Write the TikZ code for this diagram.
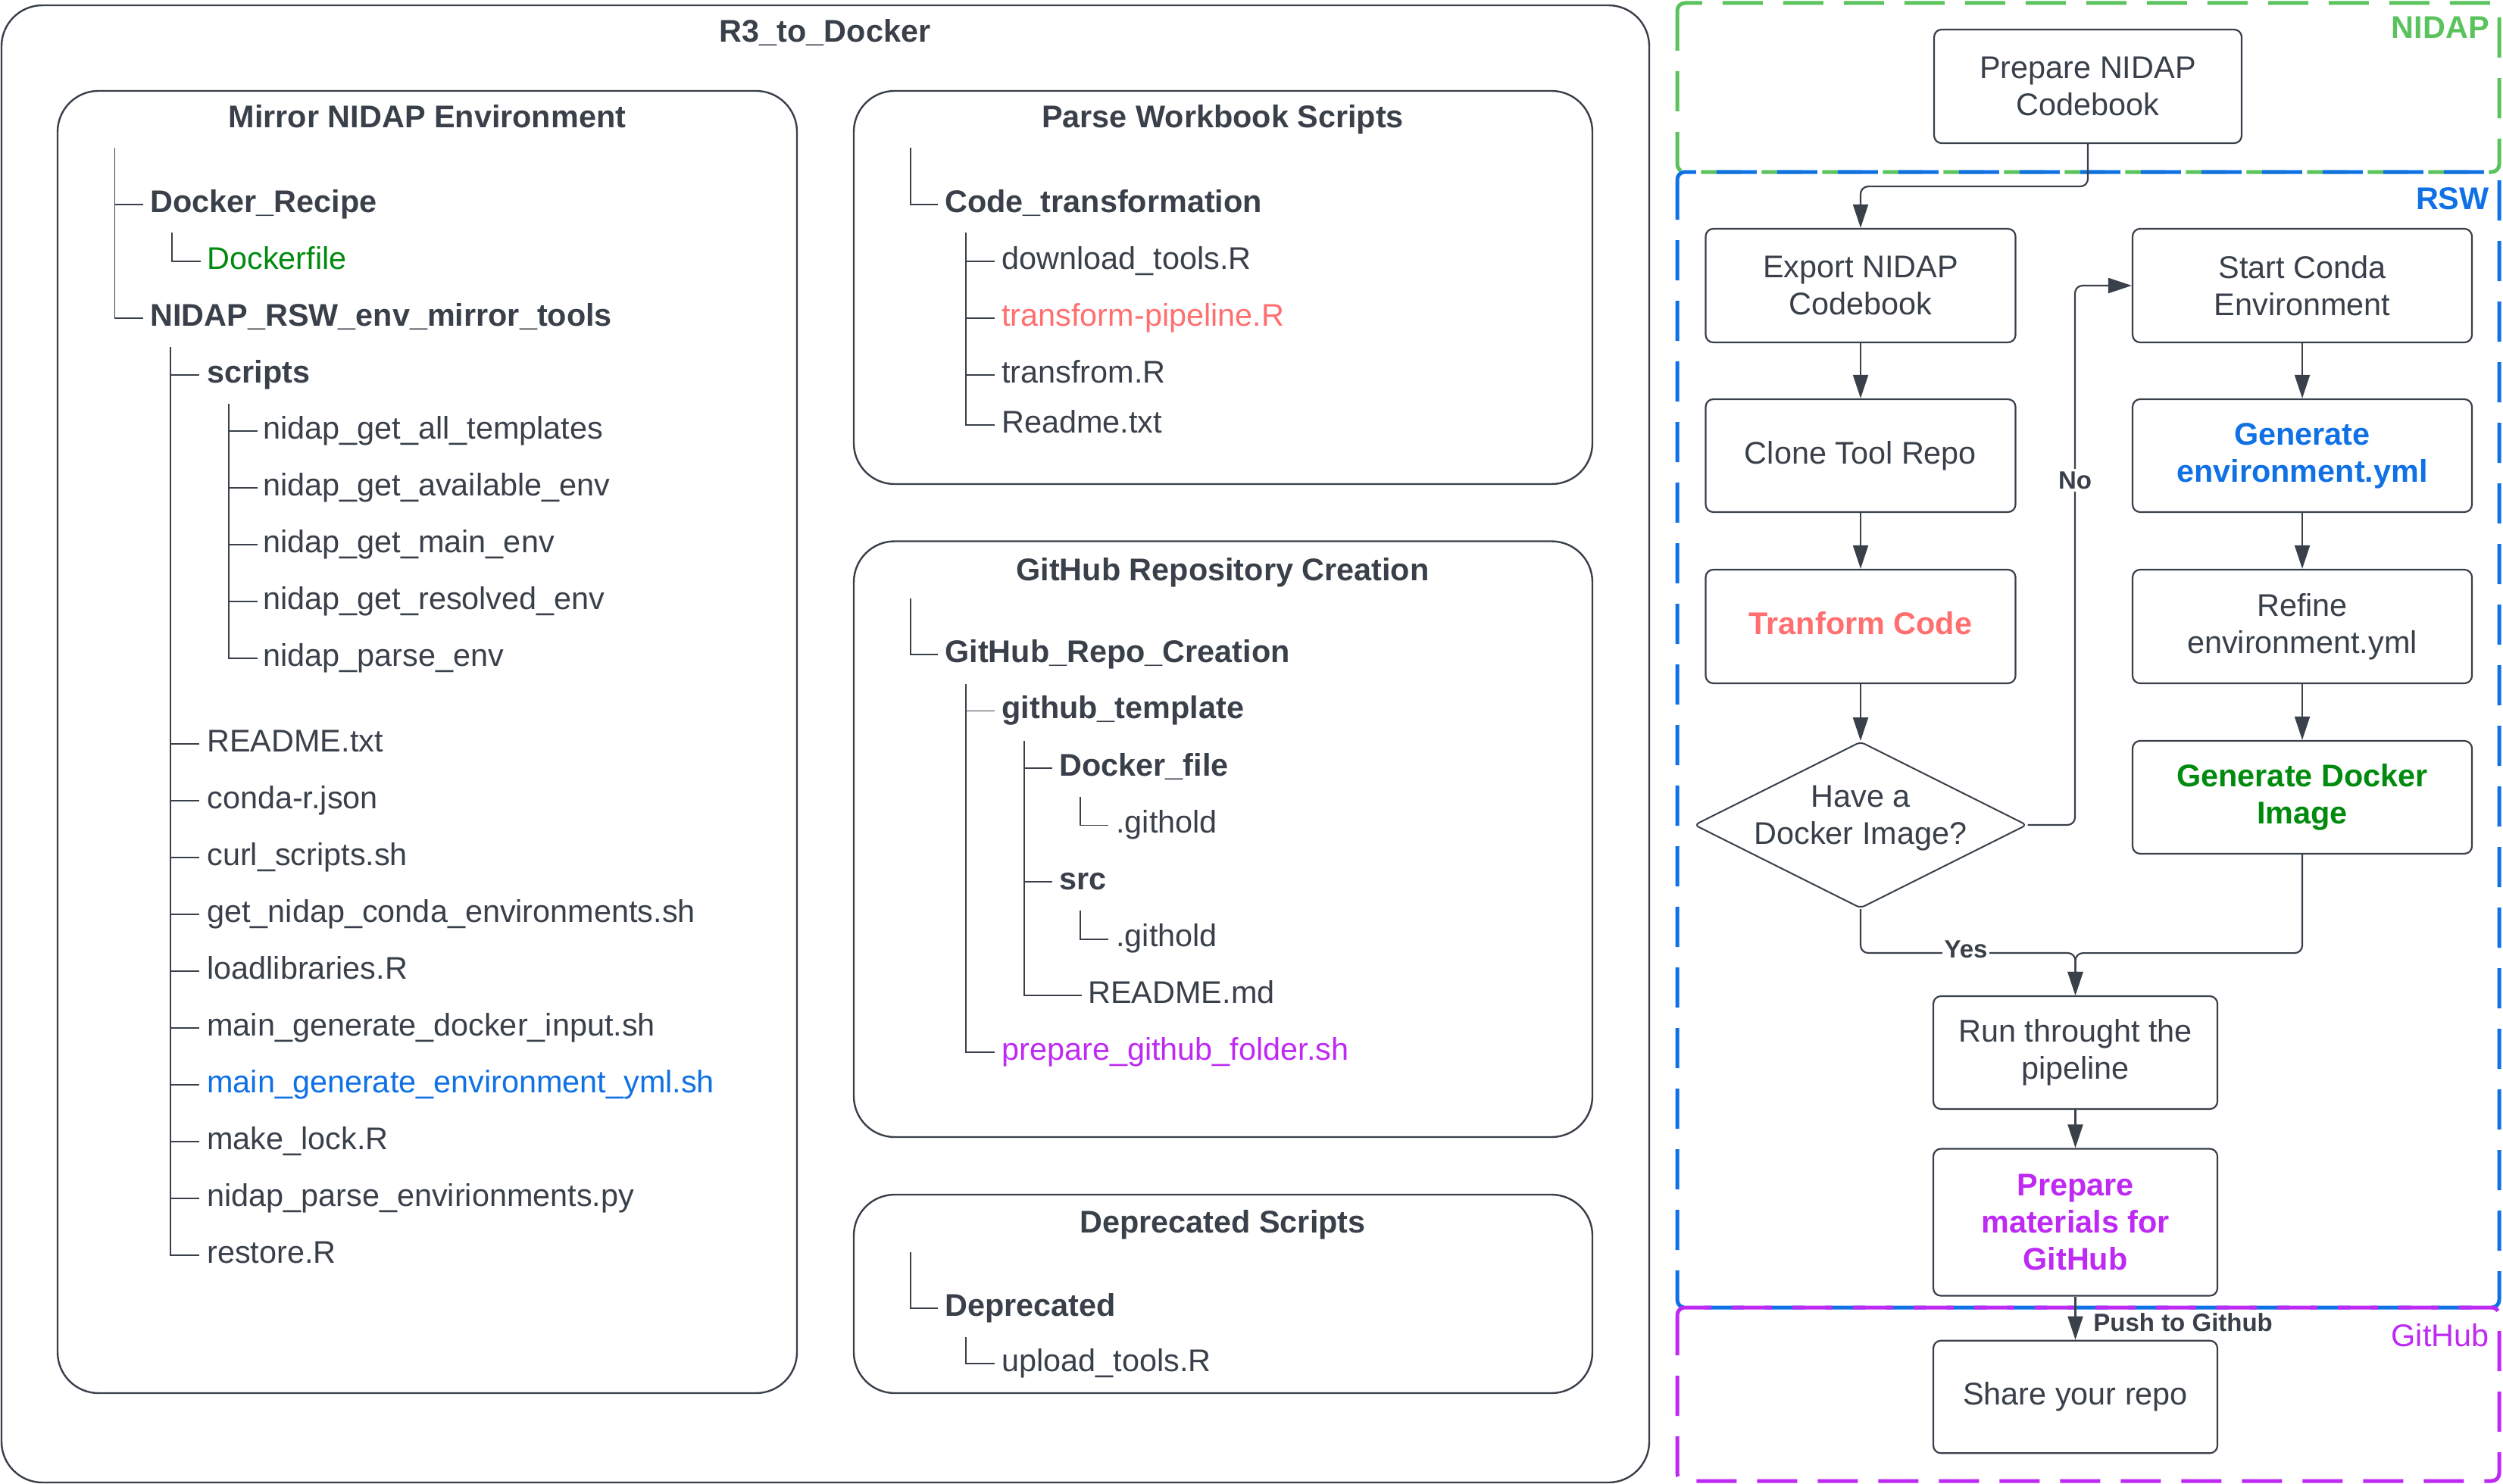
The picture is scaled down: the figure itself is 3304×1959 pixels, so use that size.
\documentclass[tikz,border=0pt]{standalone}
\usepackage{fontspec}
\setmainfont{Liberation Sans}
\usetikzlibrary{shapes.geometric,arrows.meta}
\definecolor{dk}{HTML}{39404A}
\definecolor{tgreen}{HTML}{008A0E}
\definecolor{tblue}{HTML}{1071E5}
\definecolor{tred}{HTML}{FF6F6F}
\definecolor{tpurple}{HTML}{BE2AF3}
\definecolor{dgreen}{HTML}{5BC35E}
\definecolor{dblue}{HTML}{1071E5}
\definecolor{dpurple}{HTML}{BE2AF3}
\begin{document}
\begin{tikzpicture}[x=0.5pt,y=-0.5pt,
  fnt/.style={font=\fontsize{20.7pt}{24.5pt}\selectfont},
  bfnt/.style={font=\fontsize{20.7pt}{24.5pt}\selectfont\bfseries},
  titem/.style={fnt,text=dk,inner sep=0pt,anchor=base west},
  bitem/.style={bfnt,text=dk,inner sep=0pt,anchor=base west},
  ttl/.style={bfnt,text=dk,inner sep=0pt,anchor=base},
  grp/.style={draw=dk,line width=1.2pt,rounded corners=27pt},
  tl/.style={draw=dk,line width=0.9pt},
  flowbox/.style={draw=dk,line width=1.1pt,rounded corners=5pt,fill=white,align=center,text=dk,fnt,inner sep=0pt},
  arr/.style={draw=dk,line width=1.1pt,-{Triangle[length=15.5pt,width=10pt]}},
  zone/.style={line width=2.5pt,dash pattern=on 26.5pt off 13.5pt,rounded corners=5pt},
  lbl/.style={font=\fontsize{16.5pt}{19.8pt}\selectfont\bfseries,text=dk,inner sep=1.5pt}]
\useasboundingbox (0,0) rectangle (3304,1959);

% ---------- left group boxes ----------
\draw[grp] (2,7) rectangle (2177,1957);
\node[ttl] (r3) at (1089,56) {R3\_to\_Docker};
\draw[grp] (76,120) rectangle (1052,1839);
\node[ttl] (mirror) at (564,169) {Mirror NIDAP Environment};
\draw[grp] (1127,120) rectangle (2102,639);
\node[ttl] (parse) at (1614,169) {Parse Workbook Scripts};
\draw[grp] (1127,714.5) rectangle (2102,1501);
\node[ttl] (ghrep) at (1614,766) {GitHub Repository Creation};
\draw[grp] (1127,1577) rectangle (2102,1839);
\node[ttl] (deprs) at (1614,1627) {Deprecated Scripts};

% ---------- Mirror tree ----------
\draw[tl] (151.5,195) -- (151.5,420) -- (189,420);
\draw[tl] (151.5,270) -- (189,270);
\node[bitem] (dockerrecipe) at (198,280) {Docker\_Recipe};
\node[bitem] (nrsw) at (198,430) {NIDAP\_RSW\_env\_mirror\_tools};
\draw[tl] (226.6,307) -- (226.6,345) -- (264.5,345);
\node[titem,text=tgreen] (dockerfile) at (273,355) {Dockerfile};
\draw[tl] (225,458) -- (225,1657) -- (263,1657);
\draw[tl] (225,495) -- (263,495);
\node[bitem] (scripts) at (273,505) {scripts};
\draw[tl] (302,533) -- (302,869) -- (340,869);
\foreach \yy in {569,644,719,794} \draw[tl] (302,\yy) -- (340,\yy);
\node[titem] (n1) at (347,579) {nidap\_get\_all\_templates};
\node[titem] (n2) at (347,654) {nidap\_get\_available\_env};
\node[titem] (n3) at (347,729) {nidap\_get\_main\_env};
\node[titem] (n4) at (347,804) {nidap\_get\_resolved\_env};
\node[titem] (n5) at (347,879) {nidap\_parse\_env};
\foreach \yy in {982,1057,...,1582} \draw[tl] (225,\yy) -- (263,\yy);
\node[titem] (f1) at (273,992) {README.txt};
\node[titem] (f2) at (273,1067) {conda-r.json};
\node[titem] (f3) at (273,1142) {curl\_scripts.sh};
\node[titem] (f4) at (273,1217) {get\_nidap\_conda\_environments.sh};
\node[titem] (f5) at (273,1292) {loadlibraries.R};
\node[titem] (f6) at (273,1367) {main\_generate\_docker\_input.sh};
\node[titem,text=tblue] (f7) at (273,1442) {main\_generate\_environment\_yml.sh};
\node[titem] (f8) at (273,1517) {make\_lock.R};
\node[titem] (f9) at (273,1592) {nidap\_parse\_envirionments.py};
\node[titem] (f10) at (273,1667) {restore.R};

% ---------- Parse tree ----------
\draw[tl] (1202,195) -- (1202,270) -- (1238,270);
\node[bitem] (codetr) at (1247,280) {Code\_transformation};
\draw[tl] (1275,307) -- (1275,561) -- (1312.6,561);
\foreach \yy in {345,420,495} \draw[tl] (1275,\yy) -- (1312.6,\yy);
\node[titem] (p1) at (1322,355) {download\_tools.R};
\node[titem,text=tred] (p2) at (1322,430) {transform-pipeline.R};
\node[titem] (p3) at (1322,505) {transfrom.R};
\node[titem] (p4) at (1322,571) {Readme.txt};

% ---------- GitHub tree ----------
\draw[tl] (1202,790) -- (1202,864) -- (1238,864);
\node[bitem] (ghrc) at (1247,874) {GitHub\_Repo\_Creation};
\draw[tl] (1275,903) -- (1275,1389) -- (1312.6,1389);
\draw[tl] (1275,938.5) -- (1312.6,938.5);
\node[bitem] (ght) at (1322,948.5) {github\_template};
\node[titem,text=tpurple] (pgf) at (1322,1399) {prepare\_github\_folder.sh};
\draw[tl] (1352,978) -- (1352,1314) -- (1427.6,1314);
\draw[tl] (1352,1014) -- (1389,1014);
\draw[tl] (1352,1164) -- (1389,1164);
\node[bitem] (dkf) at (1398,1024) {Docker\_file};
\node[bitem] (srcd) at (1398,1174) {src};
\node[titem] (rmd) at (1436,1324) {README.md};
\draw[tl] (1426,1051.7) -- (1426,1089.4) -- (1463,1089.4);
\node[titem] (gh1) at (1473,1099.4) {.githold};
\draw[tl] (1426,1202) -- (1426,1239.6) -- (1463,1239.6);
\node[titem] (gh2) at (1473,1249.6) {.githold};

% ---------- Deprecated tree ----------
\draw[tl] (1202,1653) -- (1202,1727) -- (1238,1727);
\node[bitem] (depr) at (1247,1737) {Deprecated};
\draw[tl] (1275,1765) -- (1275,1800) -- (1312.6,1800);
\node[titem] (upl) at (1322,1810) {upload\_tools.R};

% ---------- zones ----------
\draw[zone,draw=dgreen] (2214,4) rectangle (3299,227);
\draw[zone,draw=dblue] (2214,227) rectangle (3299,1726);
\draw[zone,draw=dpurple] (2214,1726) rectangle (3299,1955);
\node[bfnt,text=dgreen,anchor=base east,inner sep=0pt] (znidap) at (3286,51) {NIDAP};
\node[bfnt,text=dblue,anchor=base east,inner sep=0pt] (zrsw) at (3286,276) {RSW};
\node[fnt,text=dpurple,anchor=base east,inner sep=0pt] (zgh) at (3286,1777) {GitHub};

% ---------- flow nodes ----------
\node[flowbox,minimum width=203pt,minimum height=75pt] (prep) at (2756,114) {Prepare NIDAP\\Codebook};
\node[flowbox,minimum width=204.5pt,minimum height=75pt] (export) at (2456,377) {Export NIDAP\\Codebook};
\node[flowbox,minimum width=224pt,minimum height=75pt] (conda) at (3039,377) {Start Conda\\Environment};
\node[flowbox,minimum width=204.5pt,minimum height=74.5pt] (clone) at (2456,601.5) {Clone Tool Repo};
\node[flowbox,minimum width=224pt,minimum height=74.5pt,text=tblue,bfnt] (genenv) at (3039,601.5) {Generate\\environment.yml};
\node[flowbox,minimum width=204.5pt,minimum height=75pt,text=tred,bfnt,text depth=5pt] (transform) at (2456,827) {Tranform Code};
\node[flowbox,minimum width=224pt,minimum height=75pt] (refine) at (3039,827) {Refine\\environment.yml};
\node[diamond,draw=dk,line width=1pt,rounded corners=3pt,fill=white,minimum width=219.5pt,minimum height=110pt,inner sep=0pt] (dia) at (2456,1089) {};
\node[fnt,text=dk,align=center,inner sep=0pt] (diatxt) at (2456,1080) {Have a\\Docker Image?};
\node[flowbox,minimum width=224pt,minimum height=74.5pt,text=tgreen,bfnt] (gendocker) at (3039,1052.5) {Generate Docker\\Image};
\node[flowbox,minimum width=187.5pt,minimum height=74.5pt] (run) at (2739.5,1389.5) {Run throught the\\pipeline};
\node[flowbox,minimum width=187.5pt,minimum height=97pt,text=tpurple,bfnt] (prepmat) at (2739.5,1613.5) {Prepare\\materials for\\GitHub};
\node[flowbox,minimum width=187.5pt,minimum height=74.25pt] (share) at (2739.5,1844) {Share your repo};

% ---------- flow edges ----------
\draw[arr,rounded corners=5pt] (prep.south) -- ++(0,56) -| (export.north);
\draw[arr] (export) -- (clone);
\draw[arr] (clone) -- (transform);
\draw[arr] (transform) -- (dia);
\draw[arr] (conda) -- (genenv);
\draw[arr] (genenv) -- (refine);
\draw[arr] (refine) -- (gendocker);
\coordinate (nobend) at (2739,1089);
\draw[arr,rounded corners=5pt] (dia.east) -- (nobend) |- (conda.west);
\node[lbl,fill=white] (nolbl) at (2739,634) {No};
\draw[arr,rounded corners=5pt] (dia.south) -- ++(0,58) -| (run.north);
\draw[arr,rounded corners=5pt] (gendocker.south) -- ++(0,130) -| (run.north);
\node[lbl,fill=white] (yeslbl) at (2595,1253) {Yes};
\draw[arr] (run) -- (prepmat);
\draw[arr] (prepmat) -- (share);
\node[lbl,anchor=base west,inner sep=0pt] (pushlbl) at (2763,1757) {Push to Github};
\end{tikzpicture}
\end{document}
